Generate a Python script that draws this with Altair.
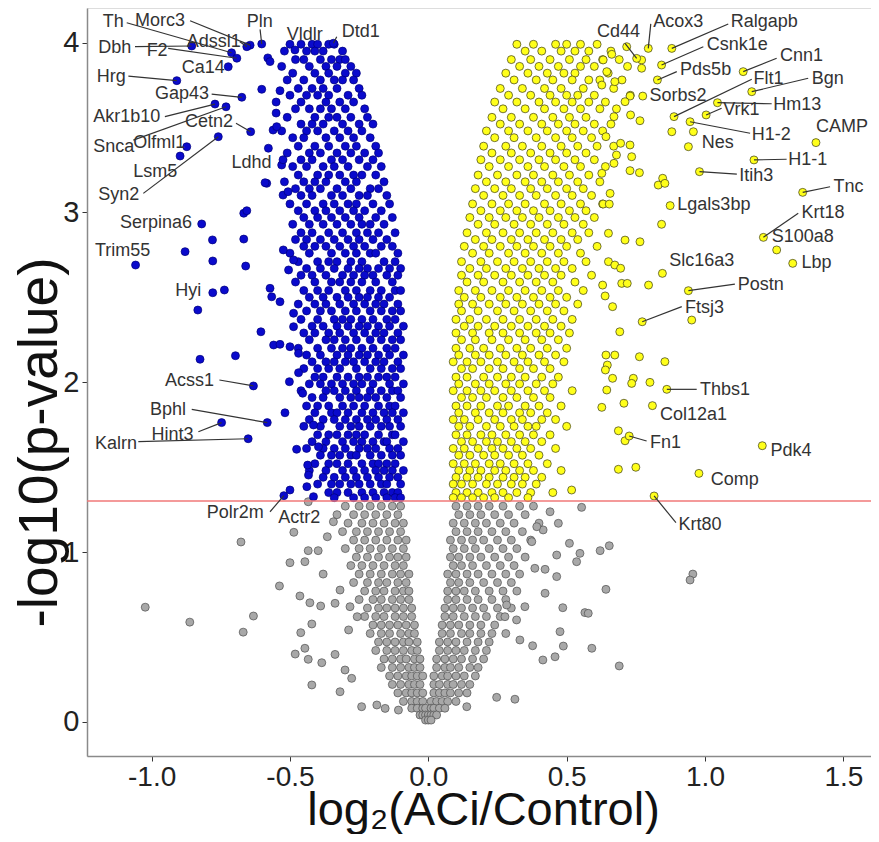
import altair as alt
import pandas as pd

# ---------------- data ----------------
# dense cores: (y, [x values])
BLUE_ROWS = [
    (3.99, [-0.50, -0.46, -0.42, -0.40, -0.36, -0.34]),
    (3.95, [-0.52, -0.44, -0.41, -0.38, -0.31]),
    (3.90, [-0.48, -0.45, -0.39, -0.35, -0.32, -0.30]),
    (3.86, [-0.53, -0.43, -0.37, -0.33, -0.28]),
    (3.82, [-0.49, -0.41, -0.36, -0.30, -0.26]),
    (3.78, [-0.51, -0.45, -0.39, -0.34, -0.31, -0.27]),
    (3.73, [-0.47, -0.42, -0.38, -0.33, -0.25]),
    (3.69, [-0.50, -0.44, -0.40, -0.36, -0.29, -0.24]),
    (3.65, [-0.55, -0.46, -0.37, -0.32, -0.27]),
    (3.61, [-0.48, -0.43, -0.39, -0.35, -0.30, -0.23]),
    (3.56, [-0.51, -0.41, -0.36, -0.33, -0.28, -0.22]),
    (3.52, [-0.46, -0.42, -0.38, -0.31, -0.25, -0.20]),
    (3.48, [-0.53, -0.44, -0.40, -0.34, -0.29, -0.24]),
    (3.44, [-0.49, -0.45, -0.37, -0.32, -0.27, -0.21]),
    (3.39, [-0.47, -0.41, -0.36, -0.30, -0.26, -0.19]),
    (3.35, [-0.51, -0.43, -0.39, -0.33, -0.28, -0.23, -0.18]),
    (3.31, [-0.46, -0.42, -0.35, -0.31, -0.25, -0.20]),
    (3.27, [-0.49, -0.44, -0.38, -0.34, -0.29, -0.22, -0.17]),
    (3.22, [-0.47, -0.40, -0.36, -0.32, -0.27, -0.24, -0.19]),
    (3.18, [-0.52, -0.45, -0.41, -0.37, -0.30, -0.26, -0.16]),
    (3.14, [-0.48, -0.43, -0.39, -0.33, -0.28, -0.21, -0.18]),
    (3.10, [-0.46, -0.42, -0.35, -0.31, -0.25, -0.22, -0.15]),
    (3.05, [-0.50, -0.44, -0.38, -0.34, -0.29, -0.26, -0.20, -0.14]),
    (3.01, [-0.47, -0.41, -0.37, -0.32, -0.27, -0.23, -0.17]),
    (2.97, [-0.45, -0.40, -0.35, -0.30, -0.25, -0.19, -0.13]),
    (2.93, [-0.49, -0.43, -0.38, -0.33, -0.28, -0.24, -0.21, -0.16]),
    (2.88, [-0.46, -0.42, -0.36, -0.31, -0.26, -0.22, -0.18, -0.12]),
    (2.84, [-0.48, -0.44, -0.39, -0.34, -0.29, -0.25, -0.20, -0.15]),
    (2.80, [-0.45, -0.41, -0.37, -0.32, -0.27, -0.23, -0.17, -0.13]),
    (2.76, [-0.50, -0.43, -0.35, -0.30, -0.26, -0.21, -0.19, -0.11]),
    (2.71, [-0.47, -0.40, -0.36, -0.33, -0.28, -0.24, -0.16, -0.12]),
    (2.67, [-0.44, -0.39, -0.34, -0.29, -0.25, -0.22, -0.18, -0.14, -0.10]),
    (2.63, [-0.46, -0.42, -0.37, -0.31, -0.27, -0.23, -0.20, -0.15, -0.11]),
    (2.59, [-0.48, -0.41, -0.35, -0.32, -0.28, -0.24, -0.19, -0.13]),
    (2.54, [-0.45, -0.40, -0.36, -0.30, -0.26, -0.21, -0.17, -0.12, -0.10]),
    (2.50, [-0.43, -0.38, -0.33, -0.29, -0.25, -0.22, -0.18, -0.14]),
    (2.46, [-0.47, -0.41, -0.37, -0.32, -0.27, -0.23, -0.19, -0.16, -0.11]),
    (2.42, [-0.44, -0.39, -0.35, -0.30, -0.26, -0.21, -0.17, -0.13, -0.10]),
    (2.37, [-0.46, -0.40, -0.34, -0.31, -0.28, -0.24, -0.20, -0.15, -0.12]),
    (2.33, [-0.42, -0.38, -0.33, -0.29, -0.25, -0.22, -0.18, -0.14, -0.09]),
    (2.29, [-0.45, -0.41, -0.36, -0.32, -0.27, -0.23, -0.19, -0.16, -0.11]),
    (2.25, [-0.43, -0.37, -0.34, -0.30, -0.26, -0.21, -0.17, -0.13, -0.10]),
    (2.20, [-0.47, -0.40, -0.35, -0.31, -0.28, -0.24, -0.20, -0.15, -0.12]),
    (2.16, [-0.44, -0.39, -0.33, -0.29, -0.25, -0.22, -0.18, -0.14, -0.09]),
    (2.12, [-0.42, -0.37, -0.34, -0.30, -0.27, -0.23, -0.19, -0.16, -0.11]),
    (2.08, [-0.45, -0.40, -0.36, -0.32, -0.26, -0.21, -0.17, -0.13, -0.10]),
    (2.03, [-0.41, -0.38, -0.33, -0.29, -0.25, -0.22, -0.18, -0.15, -0.12]),
    (1.99, [-0.43, -0.39, -0.35, -0.31, -0.27, -0.24, -0.20, -0.14, -0.09]),
    (1.95, [-0.46, -0.37, -0.34, -0.30, -0.26, -0.21, -0.17, -0.13, -0.11]),
    (1.91, [-0.42, -0.38, -0.32, -0.28, -0.25, -0.22, -0.19, -0.15, -0.10]),
    (1.86, [-0.44, -0.40, -0.36, -0.31, -0.27, -0.23, -0.18, -0.14, -0.12]),
    (1.82, [-0.41, -0.35, -0.33, -0.29, -0.24, -0.20, -0.16, -0.13, -0.09]),
    (1.78, [-0.43, -0.38, -0.34, -0.30, -0.26, -0.22, -0.19, -0.15, -0.11]),
    (1.74, [-0.45, -0.39, -0.32, -0.28, -0.25, -0.21, -0.17, -0.14, -0.10]),
    (1.69, [-0.40, -0.36, -0.33, -0.29, -0.26, -0.23, -0.18, -0.13, -0.12]),
    (1.65, [-0.42, -0.37, -0.31, -0.27, -0.24, -0.20, -0.16, -0.15, -0.09]),
    (1.61, [-0.44, -0.38, -0.34, -0.30, -0.25, -0.22, -0.19, -0.14, -0.11]),
    (1.57, [-0.39, -0.35, -0.32, -0.28, -0.26, -0.21, -0.17, -0.13, -0.10]),
    (1.52, [-0.41, -0.36, -0.33, -0.29, -0.24, -0.20, -0.18, -0.15, -0.12]),
    (1.48, [-0.43, -0.37, -0.31, -0.27, -0.23, -0.19, -0.16, -0.13, -0.09]),
    (1.44, [-0.38, -0.34, -0.30, -0.26, -0.22, -0.18, -0.14, -0.11]),
    (1.40, [-0.40, -0.35, -0.32, -0.28, -0.25, -0.21, -0.17, -0.15, -0.10]),
    (1.35, [-0.36, -0.33, -0.29, -0.24, -0.20, -0.16, -0.13, -0.11]),
    (1.32, [-0.34, -0.27, -0.23, -0.19, -0.15, -0.12, -0.10]),
]
BLUE_EXTRA_X = [-0.879, -0.780, -0.779, -0.667, -0.656, -0.667, -0.660, -0.833, -0.825, -0.697,
                -0.605, -0.584, -0.737, -0.518, -0.502, -0.476, -0.436, -0.602, -0.536, -0.590,
                -0.580, -0.572, -0.561, -0.548, -0.550, -0.578, -0.530, -0.525, -0.507, -0.505,
                -0.572, -0.566, -0.536, -0.487, -0.487, -0.559, -0.536, -0.500, -0.469, -0.524,
                -0.487, -0.469, -0.454, -0.415, -0.397, -0.433, -0.439, -0.415]
BLUE_EXTRA_Y = [2.769, 2.838, 2.714, 2.995, 3.010, 2.843, 2.684, 2.425, 2.135, 2.156,
                2.297, 3.171, 2.543, 1.820, 2.003, 1.605, 1.512, 3.725, 3.717, 3.175,
                3.910, 3.888, 3.485, 3.505, 3.585, 3.378, 3.279, 3.102, 3.122, 2.661,
                2.553, 2.503, 2.474, 2.406, 2.327, 2.219, 2.223, 2.209, 2.170, 2.779,
                2.720, 2.056, 1.935, 1.748, 1.620, 1.453, 1.385, 1.326]

YELLOW_ROWS = [
    (3.99, [0.32, 0.38, 0.46, 0.50, 0.55, 0.61]),
    (3.95, [0.35, 0.41, 0.48, 0.53, 0.58, 0.66]),
    (3.90, [0.30, 0.37, 0.44, 0.51, 0.57, 0.63, 0.69]),
    (3.86, [0.33, 0.40, 0.47, 0.55, 0.60, 0.72]),
    (3.82, [0.28, 0.36, 0.43, 0.49, 0.53, 0.65]),
    (3.78, [0.31, 0.39, 0.45, 0.52, 0.58, 0.62, 0.70]),
    (3.73, [0.26, 0.34, 0.42, 0.48, 0.56, 0.67]),
    (3.69, [0.29, 0.37, 0.44, 0.50, 0.54, 0.60, 0.73]),
    (3.65, [0.24, 0.32, 0.40, 0.46, 0.52, 0.58, 0.64]),
    (3.61, [0.27, 0.35, 0.42, 0.49, 0.55, 0.62, 0.68]),
    (3.56, [0.23, 0.30, 0.38, 0.45, 0.51, 0.57]),
    (3.52, [0.26, 0.33, 0.41, 0.47, 0.53, 0.60, 0.66]),
    (3.48, [0.21, 0.29, 0.36, 0.43, 0.50, 0.56, 0.63]),
    (3.44, [0.24, 0.31, 0.39, 0.46, 0.52, 0.59]),
    (3.39, [0.20, 0.28, 0.34, 0.41, 0.48, 0.54, 0.61, 0.67]),
    (3.35, [0.23, 0.30, 0.37, 0.44, 0.50, 0.57]),
    (3.31, [0.19, 0.26, 0.33, 0.40, 0.46, 0.53, 0.60]),
    (3.27, [0.22, 0.29, 0.36, 0.42, 0.49, 0.55, 0.64]),
    (3.22, [0.18, 0.25, 0.32, 0.38, 0.45, 0.51, 0.58]),
    (3.18, [0.21, 0.28, 0.35, 0.41, 0.47, 0.54, 0.62]),
    (3.14, [0.17, 0.24, 0.30, 0.37, 0.43, 0.50, 0.56]),
    (3.10, [0.20, 0.27, 0.33, 0.39, 0.46, 0.52, 0.59]),
    (3.05, [0.16, 0.23, 0.29, 0.35, 0.42, 0.48, 0.55, 0.63]),
    (3.01, [0.19, 0.26, 0.32, 0.38, 0.44, 0.51, 0.57]),
    (2.97, [0.15, 0.22, 0.28, 0.34, 0.40, 0.47, 0.53, 0.60]),
    (2.93, [0.18, 0.24, 0.31, 0.37, 0.43, 0.49, 0.56]),
    (2.88, [0.14, 0.21, 0.27, 0.33, 0.39, 0.45, 0.52, 0.58]),
    (2.84, [0.17, 0.23, 0.30, 0.36, 0.42, 0.48, 0.54]),
    (2.80, [0.13, 0.20, 0.26, 0.32, 0.38, 0.44, 0.50, 0.61]),
    (2.76, [0.16, 0.22, 0.29, 0.35, 0.41, 0.47, 0.55]),
    (2.71, [0.12, 0.19, 0.25, 0.31, 0.37, 0.43, 0.49, 0.57]),
    (2.67, [0.15, 0.21, 0.28, 0.34, 0.40, 0.46, 0.52]),
    (2.63, [0.12, 0.18, 0.24, 0.30, 0.36, 0.42, 0.48, 0.59]),
    (2.59, [0.14, 0.20, 0.27, 0.33, 0.39, 0.45, 0.53]),
    (2.54, [0.11, 0.17, 0.23, 0.29, 0.35, 0.41, 0.47, 0.56]),
    (2.50, [0.13, 0.19, 0.26, 0.32, 0.38, 0.44, 0.50]),
    (2.46, [0.11, 0.16, 0.22, 0.28, 0.34, 0.40, 0.46, 0.54]),
    (2.42, [0.12, 0.18, 0.25, 0.31, 0.37, 0.43, 0.49]),
    (2.37, [0.10, 0.15, 0.21, 0.27, 0.33, 0.39, 0.45, 0.52]),
    (2.33, [0.13, 0.18, 0.24, 0.30, 0.36, 0.42, 0.48]),
    (2.29, [0.10, 0.16, 0.22, 0.27, 0.33, 0.39, 0.44, 0.51]),
    (2.25, [0.12, 0.17, 0.23, 0.29, 0.35, 0.41, 0.47]),
    (2.20, [0.10, 0.15, 0.20, 0.26, 0.32, 0.37, 0.43, 0.50]),
    (2.16, [0.11, 0.17, 0.22, 0.28, 0.34, 0.40, 0.46]),
    (2.12, [0.09, 0.14, 0.19, 0.25, 0.31, 0.36, 0.42, 0.49]),
    (2.08, [0.12, 0.16, 0.22, 0.27, 0.33, 0.38, 0.44]),
    (2.03, [0.10, 0.14, 0.20, 0.25, 0.30, 0.35, 0.41, 0.47]),
    (1.99, [0.11, 0.17, 0.22, 0.28, 0.33, 0.39, 0.45]),
    (1.95, [0.09, 0.14, 0.19, 0.24, 0.30, 0.36, 0.42, 0.52]),
    (1.91, [0.12, 0.16, 0.21, 0.27, 0.32, 0.38, 0.44]),
    (1.86, [0.10, 0.14, 0.19, 0.25, 0.29, 0.35, 0.40, 0.48]),
    (1.82, [0.11, 0.17, 0.22, 0.27, 0.33, 0.37, 0.43]),
    (1.78, [0.09, 0.13, 0.18, 0.24, 0.30, 0.34, 0.41, 0.46]),
    (1.74, [0.11, 0.15, 0.21, 0.26, 0.31, 0.36, 0.39, 0.50]),
    (1.69, [0.10, 0.14, 0.19, 0.23, 0.28, 0.33, 0.38, 0.44]),
    (1.65, [0.12, 0.16, 0.21, 0.25, 0.30, 0.35, 0.41]),
    (1.61, [0.09, 0.13, 0.18, 0.23, 0.27, 0.32, 0.37, 0.46]),
    (1.57, [0.11, 0.15, 0.20, 0.24, 0.29, 0.34, 0.40]),
    (1.52, [0.09, 0.13, 0.17, 0.22, 0.26, 0.31, 0.36, 0.43]),
    (1.48, [0.11, 0.15, 0.19, 0.24, 0.28, 0.33, 0.38, 0.48]),
    (1.44, [0.10, 0.14, 0.18, 0.22, 0.27, 0.31, 0.35, 0.41]),
    (1.40, [0.09, 0.12, 0.16, 0.21, 0.25, 0.30, 0.34, 0.39]),
    (1.35, [0.10, 0.14, 0.18, 0.23, 0.27, 0.32, 0.37, 0.45]),
    (1.32, [0.09, 0.12, 0.16, 0.20, 0.24, 0.29, 0.36]),
]
YELLOW_EXTRA_X = [0.717, 0.771, 0.771, 0.632, 0.663, 0.645, 0.674, 0.627, 0.729, 0.711,
                  0.731, 0.765, 0.671, 0.642, 0.695, 0.729, 0.680, 0.735, 0.671, 0.729,
                  0.763, 0.627, 0.847, 0.831, 0.855, 0.657, 0.880, 0.958, 0.632, 0.654,
                  0.651, 0.711, 0.765, 0.843, 0.651, 0.674, 0.695, 0.630, 0.699, 0.719,
                  0.796, 0.639, 0.666, 0.692, 0.642, 0.674, 0.763, 0.855, 0.647, 0.640,
                  0.666, 0.741, 0.735, 0.801, 0.645, 0.627, 0.707, 0.687, 0.687, 0.750,
                  0.711, 0.952, 0.518]
YELLOW_EXTRA_Y = [3.976, 3.898, 3.849, 3.898, 3.931, 3.829, 3.770, 3.750, 3.685, 3.652,
                  3.574, 3.540, 3.564, 3.446, 3.407, 3.397, 3.338, 3.328, 3.289, 3.246,
                  3.234, 3.230, 3.201, 3.161, 3.171, 3.112, 3.475, 3.475, 3.049, 3.049,
                  2.877, 2.837, 2.827, 2.930, 2.710, 2.690, 2.671, 2.572, 2.582, 2.582,
                  2.572, 2.508, 2.445, 2.297, 2.160, 2.160, 2.150, 2.121, 2.101, 2.072,
                  2.023, 2.023, 1.993, 1.999, 1.954, 1.852, 1.876, 1.714, 1.487, 1.499,
                  1.655, 2.366, 1.365]

# grey: (y, [x values on both arms])
GREY_ROWS = [
    (1.27, [-0.30, -0.25, -0.21, -0.17, -0.13, -0.10, 0.10, 0.14, 0.18, 0.22, 0.27, 0.33, 0.38]),
    (1.22, [-0.33, -0.27, -0.23, -0.19, -0.15, -0.11, 0.11, 0.15, 0.19, 0.24, 0.29, 0.35]),
    (1.17, [-0.29, -0.24, -0.20, -0.16, -0.12, -0.09, 0.09, 0.13, 0.17, 0.21, 0.26, 0.31, 0.40]),
    (1.12, [-0.31, -0.26, -0.22, -0.18, -0.14, -0.10, 0.10, 0.14, 0.18, 0.23, 0.28, 0.34]),
    (1.07, [-0.27, -0.23, -0.19, -0.15, -0.11, -0.08, 0.08, 0.12, 0.16, 0.20, 0.25, 0.30, 0.37]),
    (1.02, [-0.30, -0.25, -0.21, -0.17, -0.13, -0.09, 0.09, 0.13, 0.17, 0.22, 0.27, 0.32]),
    (0.97, [-0.26, -0.22, -0.18, -0.14, -0.11, -0.08, 0.08, 0.11, 0.15, 0.19, 0.24, 0.29, 0.35]),
    (0.92, [-0.28, -0.24, -0.20, -0.16, -0.12, -0.09, 0.09, 0.12, 0.16, 0.21, 0.26, 0.31]),
    (0.87, [-0.25, -0.21, -0.17, -0.13, -0.10, -0.07, 0.07, 0.10, 0.14, 0.18, 0.23, 0.28, 0.33]),
    (0.82, [-0.27, -0.22, -0.18, -0.15, -0.11, -0.08, 0.08, 0.11, 0.15, 0.20, 0.25, 0.30]),
    (0.77, [-0.23, -0.19, -0.16, -0.12, -0.09, -0.07, 0.07, 0.10, 0.13, 0.17, 0.22, 0.27, 0.32]),
    (0.72, [-0.25, -0.20, -0.17, -0.13, -0.10, -0.07, 0.07, 0.10, 0.14, 0.18, 0.23, 0.28]),
    (0.67, [-0.22, -0.18, -0.15, -0.12, -0.09, -0.06, 0.06, 0.09, 0.12, 0.16, 0.20, 0.25, 0.30]),
    (0.62, [-0.23, -0.19, -0.16, -0.12, -0.09, -0.06, 0.06, 0.09, 0.13, 0.17, 0.21, 0.26]),
    (0.57, [-0.20, -0.17, -0.14, -0.11, -0.08, -0.05, 0.05, 0.08, 0.11, 0.15, 0.19, 0.24]),
    (0.52, [-0.21, -0.17, -0.14, -0.10, -0.07, -0.05, 0.05, 0.08, 0.12, 0.15, 0.19, 0.23, 0.28]),
    (0.47, [-0.18, -0.15, -0.12, -0.09, -0.07, -0.04, 0.04, 0.07, 0.10, 0.14, 0.18, 0.22]),
    (0.42, [-0.19, -0.15, -0.12, -0.09, -0.06, -0.04, 0.04, 0.07, 0.10, 0.13, 0.17, 0.21]),
    (0.37, [-0.16, -0.13, -0.10, -0.08, -0.05, -0.03, 0.03, 0.06, 0.09, 0.12, 0.16, 0.20]),
    (0.32, [-0.17, -0.13, -0.10, -0.07, -0.05, -0.03, 0.03, 0.06, 0.08, 0.11, 0.15, 0.18]),
    (0.27, [-0.14, -0.11, -0.08, -0.06, -0.04, -0.02, 0.02, 0.05, 0.07, 0.10, 0.13, 0.17]),
    (0.22, [-0.13, -0.10, -0.07, -0.05, -0.03, 0.02, 0.04, 0.07, 0.09, 0.12, 0.15]),
    (0.17, [-0.11, -0.08, -0.06, -0.04, -0.02, 0.02, 0.04, 0.06, 0.08, 0.11, 0.14]),
    (0.12, [-0.09, -0.06, -0.04, -0.02, 0.01, 0.03, 0.05, 0.07, 0.10]),
    (0.08, [-0.06, -0.04, -0.02, -0.01, 0.01, 0.02, 0.04, 0.06]),
    (0.04, [-0.03, -0.02, -0.01, 0.00, 0.01, 0.02, 0.03]),
    (0.01, [-0.01, 0.00, 0.01]),
]
GREY_EXTRA_X = [-0.632, -0.538, -0.500, -0.486, -0.446, -0.464, -0.428, -0.421, -0.461, -0.481,
                -0.446, -0.434, -0.421, -0.385, -0.337, -0.319, -0.301, -0.277, -0.241, -0.186,
                -0.156, -0.108, -0.389, -0.434, -0.398, -0.365, -0.380, -0.319, -0.337, -0.283,
                -0.288, -0.257, -0.343, -0.434, 0.554, 0.470, 0.510, 0.548, 0.536, 0.621,
                0.654, 0.464, 0.464, 0.422, 0.422, 0.349, 0.486, 0.566, 0.578, 0.642,
                0.476, 0.488, 0.591, 0.690, 0.377, 0.414, 0.458, 0.313, 0.247, 0.139,
                0.283, 0.319, 0.277, 0.331, 0.374, 0.385, 0.415, 0.392, 0.440, -1.023,
                -0.862, -0.669, -0.677, 0.956, 0.946]
GREY_EXTRA_Y = [0.623, 0.800, 0.937, 1.116, 0.943, 0.741, 0.701, 0.576, 0.525, 0.399,
                0.433, 0.368, 0.217, 0.348, 0.397, 0.177, 0.305, 0.256, 0.089, 0.099,
                0.079, 0.069, 0.682, 1.008, 1.008, 1.090, 0.870, 0.776, 0.698, 0.678,
                0.541, 0.619, 1.178, 1.296, 1.263, 1.169, 1.051, 0.992, 0.943, 1.008,
                1.037, 0.982, 0.855, 0.898, 0.757, 0.678, 0.672, 0.643, 0.639, 0.780,
                0.531, 0.446, 0.433, 0.329, 0.448, 0.364, 0.383, 0.133, 0.144, 0.089,
                0.688, 0.600, 0.619, 0.482, 1.061, 0.904, 1.130, 1.149, 1.237, 0.675,
                0.587, 0.528, 1.059, 0.870, 0.835]

# labelled genes
GENES = ["Th", "Morc3", "Pln", "Adssl1", "Dbh", "F2", "Vldlr", "Dtd1", "Ca14", "Hrg",
         "Gap43", "Akr1b10", "Cetn2", "Snca", "Olfml1", "Lsm5", "Ldhd", "Syn2", "Serpina6",
         "Trim55", "Hyi", "Acss1", "Bphl", "Hint3", "Kalrn", "Polr2m", "Actr2",
         "Cd44", "Acox3", "Ralgapb", "Csnk1e", "Pds5b", "Cnn1", "Flt1", "Bgn", "Sorbs2",
         "Hm13", "Vrk1", "H1-2", "Nes", "CAMP", "H1-1", "Itih3", "Tnc", "Lgals3bp", "Krt18",
         "S100a8", "Lbp", "Slc16a3", "Postn", "Ftsj3", "Thbs1", "Col12a1", "Fn1", "Pdk4",
         "Comp", "Krt80"]
GENE_FC = [-0.711, -0.644, -0.602, -0.656, -0.855, -0.692, -0.482, -0.343, -0.723, -0.909,
           -0.674, -0.771, -0.642, -0.731, -0.873, -0.897, -0.525, -0.759, -0.819,
           -1.058, -0.779, -0.632, -0.582, -0.747, -0.651, -0.522, -0.500,
           0.753, 0.795, 0.880, 0.843, 0.828, 1.138, 0.888, 1.169, 0.775,
           1.045, 1.004, 0.946, 0.940, 1.401, 1.177, 0.980, 1.353, 0.874, 1.211,
           1.259, 1.317, 0.846, 0.940, 0.773, 0.862, 0.810, 0.726, 1.207,
           0.978, 0.816]
GENE_P = [3.940, 3.985, 3.992, 3.976, 3.980, 3.908, 3.957, 3.996, 3.858, 3.776,
          3.678, 3.638, 3.475, 3.622, 3.387, 3.332, 3.310, 3.446, 2.932,
          2.690, 2.527, 1.978, 1.762, 1.762, 1.667, 1.332, 1.365,
          3.907, 3.966, 3.966, 3.868, 3.780, 3.829, 3.564, 3.711, 3.685,
          3.646, 3.574, 3.534, 3.387, 3.411, 3.309, 3.240, 3.118, 3.040, 2.853,
          2.779, 2.700, 2.641, 2.539, 2.356, 1.958, 1.862, 1.683, 1.626,
          1.463, 1.330]

# label placement (left edge / vertical centre of each label, in data units)
LABEL_X = [-1.177, -1.060, -0.656, -0.873, -1.193, -1.018, -0.512, -0.313, -0.891, -1.198,
           -0.988, -1.211, -0.879, -1.211, -1.066, -1.066, -0.711, -1.193, -1.114,
           -1.205, -0.915, -0.952, -1.006, -1.000, -1.205, -0.801, -0.542,
           0.610, 0.813, 1.093, 1.006, 0.910, 1.271, 1.175, 1.386, 0.799,
           1.247, 1.066, 1.169, 0.988, 1.401, 1.301, 1.124, 1.464, 0.900, 1.349,
           1.241, 1.349, 0.871, 1.118, 0.928, 0.982, 0.837, 0.801, 1.237,
           1.021, 0.904]
LABEL_Y = [4.123, 4.129, 4.123, 4.005, 3.966, 3.952, 4.045, 4.064, 3.849, 3.799,
           3.697, 3.560, 3.534, 3.387, 3.410, 3.240, 3.289, 3.102, 2.936,
           2.774, 2.539, 2.009, 1.836, 1.689, 1.634, 1.231, 1.198,
           4.064, 4.123, 4.123, 3.986, 3.839, 3.922, 3.784, 3.786, 3.685,
           3.634, 3.604, 3.455, 3.407, 3.505, 3.309, 3.216, 3.151, 3.044, 2.995,
           2.853, 2.700, 2.716, 2.572, 2.435, 1.954, 1.807, 1.644, 1.597,
           1.424, 1.159]
# start of each leader segment (None: label has no segment)
SEG_X = [-1.090, -0.861, -0.608, -0.681, -1.060, -0.940, None, -0.331, None, -1.084,
         -0.783, -0.952, -0.695, -1.066, None, None, None, -1.030, None,
         None, None, -0.755, -0.855, -0.831, -1.048, -0.572, None,
         0.711, 0.804, 1.084, 0.994, 0.898, 1.259, 1.169, 1.373, None,
         1.241, 1.060, 1.163, None, None, 1.295, 1.115, 1.452, None, 1.337,
         None, None, None, 1.108, 0.916, 0.970, None, 0.789, None,
         None, 0.895]
SEG_Y = [4.117, 4.129, 4.078, 4.005, 3.976, 3.966, None, 4.035, None, 3.803,
         3.697, 3.564, 3.525, 3.426, None, None, None, 3.112, None,
         None, None, 2.013, 1.840, 1.708, 1.650, 1.237, None,
         3.996, 4.110, 4.110, 3.976, 3.829, 3.908, 3.784, 3.790, None,
         3.640, 3.613, 3.466, None, None, 3.313, 3.226, 3.151, None, 2.995,
         None, None, None, 2.578, 2.445, 1.958, None, 1.654, None,
         None, 1.173]

THRESHOLD = [1.3]

# ---------------- build tables ----------------
rows = []
for grp, core, ex, ey in [("down", BLUE_ROWS, BLUE_EXTRA_X, BLUE_EXTRA_Y),
                          ("up", YELLOW_ROWS, YELLOW_EXTRA_X, YELLOW_EXTRA_Y)]:
    for yv, xs in core:
        rows += [{"fc": xv, "p": yv, "g": grp} for xv in xs]
    rows += [{"fc": a, "p": b, "g": grp} for a, b in zip(ex, ey)]
grey = []
for yv, xs in GREY_ROWS:
    grey += [{"fc": xv, "p": yv, "g": "ns"} for xv in xs]
grey += [{"fc": a, "p": b, "g": "ns"} for a, b in zip(GREY_EXTRA_X, GREY_EXTRA_Y)]
genes = pd.DataFrame({"gene": GENES, "fc": GENE_FC, "p": GENE_P,
                      "lx": LABEL_X, "ly": LABEL_Y, "sx": SEG_X, "sy": SEG_Y})
genes["g"] = ["down" if v < 0 else "up" for v in genes["fc"]]
points = pd.concat([pd.DataFrame(grey), pd.DataFrame(rows),
                    genes[["fc", "p", "g"]]], ignore_index=True)
segs = genes.dropna(subset=["sx"])

FONT = "Liberation Sans, Arial, Helvetica, sans-serif"
xs = alt.Scale(domain=[-1.2335, 1.5999], nice=False, zero=False)
ys = alt.Scale(domain=[-0.2014, 4.2038], nice=False, zero=False)

x_axis = alt.Axis(values=[-1.0, -0.5, 0.0, 0.5, 1.0, 1.5],
                  labelExpr="replace(format(datum.value, '.1f'), '\u2212', '-')",
                  title="log\u2082(ACi/Control)", grid=False,
                  labelFontSize=28, labelFont=FONT, labelColor="#222",
                  titleFontSize=47, titleFont=FONT, titleFontWeight="normal", titleColor="#111",
                  titleX=396, titleY=68, titleBaseline="alphabetic", titleAlign="center",
                  tickSize=5, tickColor="#333", domainColor="#8a8a8a", domainWidth=1.5,
                  labelPadding=2)
y_axis = alt.Axis(values=[0, 1, 2, 3, 4], format="d", title="-log10(p-value)", grid=False,
                  labelFontSize=29, labelFont=FONT, labelColor="#222",
                  titleFontSize=55, titleFont=FONT, titleFontWeight="normal", titleColor="#111",
                  titleAngle=270, titleX=-48, titleY=434, titleBaseline="middle",
                  titleAlign="center",
                  tickSize=5, tickColor="#333", domainColor="#8a8a8a", domainWidth=1.5,
                  labelPadding=3)

X = alt.X("fc:Q", scale=xs, axis=x_axis)
Y = alt.Y("p:Q", scale=ys, axis=y_axis)

pts = alt.Chart(points).mark_circle(size=64, opacity=1, strokeWidth=0.7).encode(
    x=X, y=Y,
    fill=alt.Fill("g:N", scale=alt.Scale(domain=["ns", "down", "up"],
                                         range=["#a8a8a8", "#0a0acc", "#ffff1a"]), legend=None),
    stroke=alt.Stroke("g:N", scale=alt.Scale(domain=["ns", "down", "up"],
                                             range=["#505050", "#00007a", "#3a3a1a"]), legend=None),
)

thr = alt.Chart(pd.DataFrame({"p": THRESHOLD})).mark_rule(color="#f07878", strokeWidth=1.6).encode(
    y=alt.Y("p:Q", scale=ys, axis=y_axis))

seg = alt.Chart(segs).mark_rule(color="#333333", strokeWidth=1.2).encode(
    x=alt.X("sx:Q", scale=xs, axis=x_axis), y=alt.Y("sy:Q", scale=ys, axis=y_axis),
    x2="fc:Q", y2="p:Q")

lab = alt.Chart(genes).mark_text(align="left", baseline="middle", fontSize=18, font=FONT,
                                 color="#333333").encode(
    x=alt.X("lx:Q", scale=xs, axis=x_axis), y=alt.Y("ly:Q", scale=ys, axis=y_axis),
    text="gene:N")

chart = alt.layer(pts, thr, seg, lab).properties(
    width=784, height=748,
    autosize=alt.AutoSizeParams(type="none"),
    padding={"left": 79, "top": 0, "right": 0, "bottom": 78},
).configure_view(stroke=None).configure(background="white")

chart.save("out.html", embed_options={"renderer": "svg", "actions": False})
